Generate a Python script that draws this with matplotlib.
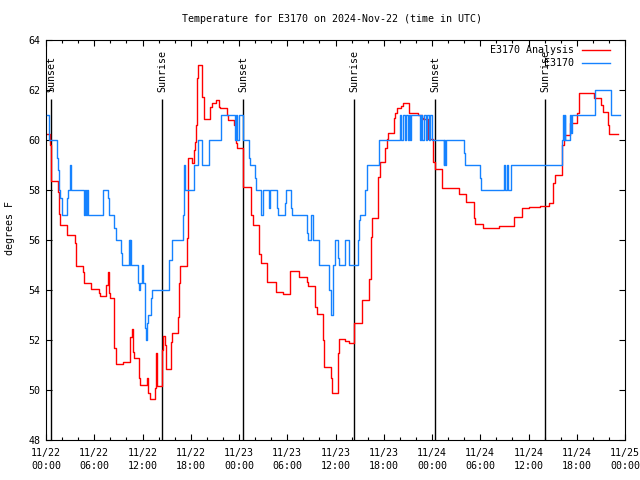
import matplotlib
matplotlib.use("Agg")
import matplotlib.pyplot as plt

plt.rcParams['font.family'] = ['DejaVu Sans Mono']
plt.rcParams['font.size'] = 7.2

# hours since 11/22 00:00 UTC, step values in deg F
red_hours = [0.08, 0.5, 0.66, 1.55, 1.66, 1.74, 2.55, 2.65, 3.6, 3.73,
             4.6, 4.73, 5.6, 6.6, 6.71, 7.5, 7.65, 7.8, 7.96, 8.5,
             8.7, 9.6, 10.5, 10.7, 10.8, 10.94, 11.6, 11.69, 12.52, 12.72,
             12.95, 13.5, 13.65, 13.8, 14.45, 14.6, 14.8, 14.92, 15.5, 15.7,
             16.45, 16.6, 16.7, 17.5, 17.6, 17.7, 18.1, 18.35, 18.55, 18.65,
             18.75, 18.85, 19.45, 19.6, 20.4, 20.6, 21.1, 21.5, 21.6, 22.5,
             22.65, 23.35, 23.6, 23.8, 24.53, 25.55, 25.7, 26.45, 26.69, 27.5,
             28.6, 29.5, 30.4, 31.5, 32.41, 32.62, 33.4, 33.66, 34.4, 34.57,
             35.45, 35.6, 36.25, 36.47, 37.22, 37.68, 38.35, 39.3, 40.2, 40.4,
             40.5, 41.3, 41.53, 42.2, 42.4, 42.5, 43.25, 43.4, 43.61, 44.1,
             44.43, 45.2, 46.22, 46.8, 46.92, 47.5, 48.16, 48.41, 49.3, 51.3,
             52.2, 53.2, 53.35, 54.3, 56.3, 58.2, 59.25, 60.1, 61.43, 62.5,
             63.1, 63.29, 64.12, 64.4, 65.2, 66.07, 66.25, 68.1, 68.48, 69.0,
             69.3, 69.92, 70.05, 71.09]
red_temp = [60.24, 59.8, 58.36, 57.93, 57.03, 56.6, 56.27, 56.19, 55.87, 54.96,
            54.73, 54.27, 54.03, 53.87, 53.76, 54.2, 54.72, 53.88, 53.67, 51.69,
            51.03, 51.13, 52.13, 52.45, 51.53, 51.27, 50.47, 50.2, 50.47, 49.87,
            49.63, 50.1, 51.47, 50.16, 51.6, 52.16, 51.8, 50.83, 51.93, 52.27,
            52.93, 54.27, 54.96, 56.07, 58.33, 59.27, 59.1, 59.6, 59.91, 60.6,
            62.47, 63.0, 61.73, 60.84, 61.33, 61.47, 61.6, 61.33, 61.27, 61.0,
            60.8, 60.6, 59.87, 59.67, 58.13, 57.0, 56.59, 55.44, 55.07, 54.33,
            53.93, 53.84, 54.77, 54.53, 54.33, 54.16, 53.31, 53.04, 52.0, 50.93,
            50.5, 49.87, 51.47, 52.03, 51.97, 51.89, 52.67, 53.6, 54.43, 56.13,
            56.87, 58.53, 59.13, 59.7, 60.03, 60.29, 60.9, 61.07, 61.27, 61.37,
            61.47, 61.07, 61.0, 60.9, 60.83, 60.03, 59.13, 58.83, 58.07, 57.84,
            57.53, 56.9, 56.63, 56.47, 56.56, 56.91, 57.27, 57.31, 57.36, 57.49,
            58.29, 58.6, 59.8, 60.2, 60.67, 61.07, 61.89, 61.7, 61.67, 61.4,
            61.13, 60.6, 60.24, 60.24]

blue_hours = [0.08, 0.35, 1.35, 1.45, 1.6, 1.8, 2.03, 2.55, 2.7, 2.95,
              3.1, 4.75, 4.85, 5.0, 5.1, 5.25, 7.05, 7.15, 7.75, 7.85,
              8.5, 8.7, 9.3, 9.4, 10.3, 10.4, 10.5, 10.6, 11.45, 11.6,
              11.75, 11.9, 12.0, 12.3, 12.45, 12.55, 12.7, 13.0, 13.15, 15.25,
              15.35, 15.65, 17.0, 17.15, 17.3, 18.4, 18.9, 19.35, 20.3, 21.75,
              23.5, 23.65, 23.8, 23.95, 24.5, 25.2, 25.4, 26.05, 26.15, 26.7,
              26.95, 27.75, 27.9, 28.7, 28.85, 29.75, 29.85, 30.45, 30.6, 32.45,
              32.6, 33.0, 33.15, 33.9, 34.0, 35.15, 35.4, 35.5, 35.65, 35.75,
              35.95, 36.35, 36.45, 37.2, 37.7, 38.85, 38.95, 39.04, 39.7, 39.9,
              41.35, 41.45, 44.0, 44.2, 44.4, 44.6, 44.8, 45.0, 45.2, 45.3,
              45.45, 46.5, 46.65, 46.8, 47.0, 47.2, 47.4, 47.6, 47.8, 47.96,
              49.45, 49.55, 49.65, 49.78, 51.95, 52.1, 53.95, 54.05, 56.9, 57.1,
              57.3, 57.45, 57.85, 64.15, 64.3, 64.4, 64.5, 64.6, 65.15, 65.25,
              65.35, 68.3, 70.3, 71.4]
blue_temp = [61, 60, 59.3, 58.8, 58, 57.7, 57, 57.7, 58, 59,
             58, 57, 58, 57, 58, 57, 57.7, 58, 57.7, 57,
             56.5, 56, 55.5, 55, 56, 55, 56, 55, 54.3, 54,
             54.3, 55, 54.3, 52.5, 52, 52.7, 53, 53.7, 54, 54.3,
             55.2, 56, 57, 59, 58, 59, 60, 59, 60, 61,
             60, 61, 60, 61, 60, 59.3, 59, 58.5, 58, 57,
             58, 57.3, 58, 57.3, 57, 57.5, 58, 57.3, 57, 56.3,
             56, 57, 56, 55.3, 55, 54, 53.3, 53, 54.5, 55,
             56, 55.3, 55, 56, 55, 56, 56.8, 57, 58, 59,
             59.5, 60, 61, 60, 61, 60, 61, 60, 61, 60,
             61, 60, 61, 60, 61, 60, 61, 60, 61, 60,
             59, 60, 59, 60, 59.5, 59, 58.5, 58, 59, 58,
             59, 58, 59, 60, 61, 60, 61, 60, 61, 60.3,
             61, 62, 61, 61]

sun_hours = [0.66, 14.46, 24.53, 38.34, 48.41, 62.09]
sun_labels = ['Sunset', 'Sunrise', 'Sunset', 'Sunrise', 'Sunset', 'Sunrise']

tick_hours = list(range(0, 73, 6))
tick_labels = ['11/22\n00:00', '11/22\n06:00', '11/22\n12:00', '11/22\n18:00',
               '11/23\n00:00', '11/23\n06:00', '11/23\n12:00', '11/23\n18:00',
               '11/24\n00:00', '11/24\n06:00', '11/24\n12:00', '11/24\n18:00',
               '11/25\n00:00']

fig = plt.figure(figsize=(6.4, 4.8), dpi=100)
ax = fig.add_axes([46 / 640, 40 / 480, 579 / 640, 400 / 480])

ax.vlines(sun_hours, 48, 61.64, color='black', lw=1.0, zorder=1)
for h, lab in zip(sun_hours, sun_labels):
    ax.text(h, 61.92, lab, rotation=90, ha='center', va='bottom')

ax.step(red_hours, red_temp, where='post', color='#ff0000', lw=1.0, zorder=2)
ax.step(blue_hours, blue_temp, where='post', color='#1582ff', lw=1.0, zorder=3)

ax.set_xlim(0, 72)
ax.set_ylim(48, 64)
ax.set_yticks(range(48, 65, 2))
ax.set_xticks(tick_hours)
ax.set_xticklabels(tick_labels, linespacing=1.3)
ax.set_xticks(range(0, 73, 2), minor=True)
ax.tick_params(which='both', direction='in', top=True, right=True, width=0.8)
ax.tick_params(which='major', length=4.5)
ax.tick_params(which='minor', length=2.3)
ax.tick_params(axis='x', pad=6)
ax.tick_params(axis='y', pad=4)
for s in ax.spines.values():
    s.set_linewidth(0.8)

# legend, right-aligned text like gnuplot
ax.text(0.912, 0.975, 'E3170 Analysis', transform=ax.transAxes, ha='right', va='center')
ax.plot([0.9257, 0.9741], [0.975, 0.975], transform=ax.transAxes, color='#ff0000', lw=1.0)
ax.text(0.912, 0.943, 'E3170', transform=ax.transAxes, ha='right', va='center')
ax.plot([0.9257, 0.9741], [0.943, 0.943], transform=ax.transAxes, color='#1582ff', lw=1.0)

fig.text(332 / 640, 1 - 19 / 480, 'Temperature for E3170 on 2024-Nov-22 (time in UTC)',
         ha='center', va='center')
fig.text(10 / 640, 1 - 228 / 480, 'degrees F', rotation=90, ha='center', va='center')

fig.savefig('out.png', dpi=100)
